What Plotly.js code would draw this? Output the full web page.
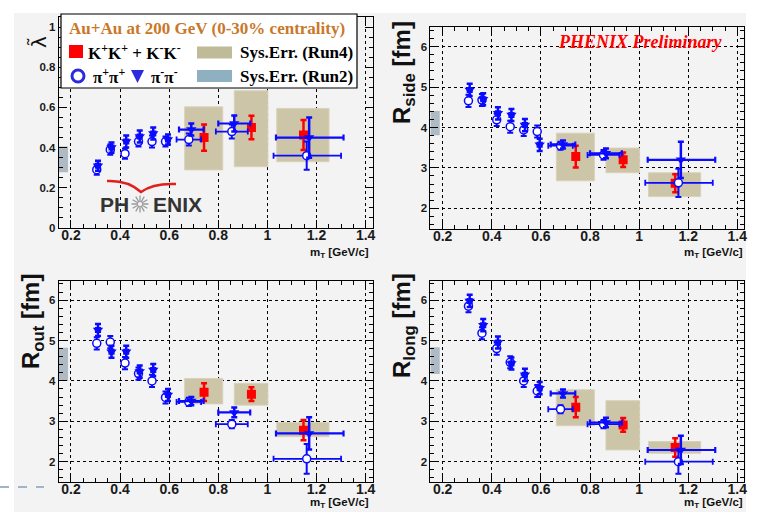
<!DOCTYPE html>
<html><head><meta charset="utf-8">
<script src="https://cdn.plot.ly/plotly-3.0.1.min.js"></script>
<style>html,body{margin:0;padding:0;background:#fff;}#chart{width:759px;height:512px;}</style>
</head><body><div id="chart"></div>
<script>
// ---------- DATA ----------
const mTpiPlus  = [0.305, 0.36, 0.42, 0.475, 0.53, 0.585, 0.68, 0.855, 1.16];
const mTpiMinus = [0.31, 0.365, 0.425, 0.48, 0.535, 0.595, 0.69, 0.865, 1.17];
const mTerrLow  = [0.008, 0.008, 0.008, 0.008, 0.008, 0.008, 0.05, 0.065, 0.135];
const mTerrHigh = [0.008, 0.008, 0.008, 0.008, 0.008, 0.008, 0.05, 0.065, 0.14];
const mTkaon    = [0.742, 0.935, 1.147];
const sysBinLow  = [0.663, 0.865, 1.038];
const sysBinHigh = [0.818, 1.002, 1.251];
const run2Bin    = [0.15, 0.188];

// lambda
const lambdaPiPlus     = [0.29, 0.39, 0.37, 0.43, 0.43, 0.43, 0.44, 0.48, 0.36];
const lambdaPiPlusErr  = [0.025, 0.025, 0.025, 0.025, 0.03, 0.025, 0.03, 0.035, 0.07];
const lambdaPiMinus    = [0.31, 0.40, 0.43, 0.455, 0.47, 0.44, 0.49, 0.52, 0.45];
const lambdaPiMinusErr = [0.025, 0.025, 0.03, 0.03, 0.03, 0.025, 0.03, 0.04, 0.10];
const lambdaKaon       = [0.45, 0.50, 0.463];
const lambdaKaonErr    = [0.065, 0.058, 0.075];
const lambdaSysLow     = [0.289, 0.305, 0.33];
const lambdaSysHigh    = [0.603, 0.683, 0.595];
const lambdaRun2       = [0.277, 0.405];

// R_side
const sidePiPlus     = [4.66, 4.68, 4.19, 4.02, 3.94, 3.90, 3.55, 3.32, 2.63];
const sidePiPlusErr  = [0.15, 0.15, 0.15, 0.15, 0.15, 0.15, 0.1, 0.12, 0.35];
const sidePiMinus    = [4.93, 4.70, 4.35, 4.31, 4.06, 3.57, 3.58, 3.36, 3.20];
const sidePiMinusErr = [0.15, 0.15, 0.15, 0.15, 0.15, 0.15, 0.1, 0.12, 0.45];
const sideKaon       = [3.28, 3.20, 2.62];
const sideKaonErr    = [0.27, 0.18, 0.22];
const sideSysLow     = [2.68, 2.88, 2.29];
const sideSysHigh    = [3.86, 3.49, 2.88];
const sideRun2       = [3.81, 4.41];

// R_out
const outPiPlus     = [4.93, 4.96, 4.44, 4.18, 4.00, 3.59, 3.48, 2.93, 2.07];
const outPiPlusErr  = [0.15, 0.15, 0.15, 0.15, 0.15, 0.15, 0.1, 0.1, 0.37];
const outPiMinus    = [5.26, 4.72, 4.72, 4.23, 4.27, 3.65, 3.50, 3.22, 2.70];
const outPiMinusErr = [0.15, 0.15, 0.15, 0.15, 0.15, 0.15, 0.1, 0.12, 0.40];
const outKaon       = [3.72, 3.67, 2.78];
const outKaonErr    = [0.22, 0.17, 0.25];
const outSysLow     = [3.43, 3.40, 2.62];
const outSysHigh    = [4.06, 3.94, 2.97];
const outRun2       = [4.00, 4.82];

// R_long
const longPiPlus     = [5.85, 5.18, 4.80, 4.46, 4.00, 3.75, 3.30, 2.93, 2.00];
const longPiPlusErr  = [0.15, 0.15, 0.15, 0.15, 0.15, 0.15, 0.1, 0.1, 0.30];
const longPiMinus    = [5.98, 5.38, 4.95, 4.43, 4.15, 3.82, 3.69, 2.97, 2.29];
const longPiMinusErr = [0.15, 0.15, 0.15, 0.15, 0.15, 0.15, 0.1, 0.12, 0.35];
const longKaon       = [3.35, 2.91, 2.35];
const longKaonErr    = [0.25, 0.17, 0.23];
const longSysLow     = [2.89, 2.29, 2.21];
const longSysHigh    = [3.78, 3.51, 2.50];
const longRun2       = [4.17, 4.83];

// ---------- STYLE / LAYOUT ----------
const W = 759, H = 512;
const px = v => v / W, py = v => 1 - v / H;
const BLUE = '#0a0aff', RED = '#ff0000', TAN = '#ccc5a8', TANLINE = '#d8d2bc', RUN2 = '#aebbc5';

const traces = [];
function panel(sfx, piP, piPErr, piM, piMErr, k, kErr, sysLo, sysHi, run2) {
  const xa = 'x' + sfx, ya = 'y' + sfx;
  traces.push({x:[run2Bin[0], run2Bin[1], run2Bin[1], run2Bin[0], run2Bin[0]],
    y:[run2[0], run2[0], run2[1], run2[1], run2[0]], xaxis:xa, yaxis:ya,
    mode:'lines', fill:'toself', fillcolor:RUN2, line:{width:0, color:RUN2}, hoverinfo:'skip'});
  for (let i = 0; i < sysLo.length; i++) {
    traces.push({x:[sysBinLow[i], sysBinHigh[i], sysBinHigh[i], sysBinLow[i], sysBinLow[i]],
      y:[sysLo[i], sysLo[i], sysHi[i], sysHi[i], sysLo[i]], xaxis:xa, yaxis:ya,
      mode:'lines', fill:'toself', fillcolor:TAN, line:{width:1, color:TANLINE}, hoverinfo:'skip'});
  }
  traces.push({x:mTkaon, y:k, xaxis:xa, yaxis:ya, mode:'markers',
    marker:{symbol:'square', size:9, color:RED},
    error_y:{type:'data', array:kErr, color:RED, thickness:2.5, width:3}});
  traces.push({x:mTpiPlus, y:piP, xaxis:xa, yaxis:ya, mode:'markers',
    marker:{symbol:'circle', size:8, color:'#ffffff', line:{color:BLUE, width:1.5}},
    error_x:{type:'data', symmetric:false, array:mTerrHigh, arrayminus:mTerrLow, color:BLUE, thickness:1.8, width:3},
    error_y:{type:'data', array:piPErr, color:BLUE, thickness:2, width:3}});
  traces.push({x:mTpiMinus, y:piM, xaxis:xa, yaxis:ya, mode:'markers',
    marker:{symbol:'triangle-down', size:9, color:BLUE},
    error_x:{type:'data', symmetric:false, array:mTerrHigh, arrayminus:mTerrLow, color:BLUE, thickness:2.2, width:3},
    error_y:{type:'data', array:piMErr, color:BLUE, thickness:2.5, width:3}});
}
panel('',  lambdaPiPlus, lambdaPiPlusErr, lambdaPiMinus, lambdaPiMinusErr, lambdaKaon, lambdaKaonErr, lambdaSysLow, lambdaSysHigh, lambdaRun2);
panel('2', sidePiPlus, sidePiPlusErr, sidePiMinus, sidePiMinusErr, sideKaon, sideKaonErr, sideSysLow, sideSysHigh, sideRun2);
panel('3', outPiPlus, outPiPlusErr, outPiMinus, outPiMinusErr, outKaon, outKaonErr, outSysLow, outSysHigh, outRun2);
panel('4', longPiPlus, longPiPlusErr, longPiMinus, longPiMinusErr, longKaon, longKaonErr, longSysLow, longSysHigh, longRun2);

const tickFontX = {family:'Liberation Sans, Arial, sans-serif', size:14, weight:'bold', color:'#1a1a1a'};
const tickFontY = {family:'Liberation Sans, Arial, sans-serif', size:11.5, weight:'bold', color:'#1a1a1a'};
function xAxis(dom, anchor) {
  return {domain:dom, anchor:anchor, range:[0.15, 1.428], tick0:0, dtick:0.2,
    showline:true, linecolor:'#000', linewidth:1, mirror:'allticks',
    ticks:'inside', ticklen:8, tickcolor:'#000', tickwidth:1, ticklabelstandoff:-6,
    minor:{ticks:'inside', ticklen:4, dtick:0.05, tick0:0, tickcolor:'#000', showgrid:false},
    showgrid:true, gridcolor:'#000', griddash:'dot', gridwidth:1, zeroline:false,
    tickfont:tickFontX, fixedrange:true};
}
function yAxis(dom, anchor, range, dtick, mdtick, grid) {
  return {domain:dom, anchor:anchor, range:range, tick0:0, dtick:dtick,
    showline:true, linecolor:'#000', linewidth:1, mirror:'allticks',
    ticks:'inside', ticklen:8, tickcolor:'#000', tickwidth:1,
    minor:{ticks:'inside', ticklen:4, dtick:mdtick, tick0:0, tickcolor:'#000', showgrid:false},
    showgrid:grid, gridcolor:'#000', griddash:'dot', gridwidth:1, zeroline:false,
    tickfont:tickFontY, fixedrange:true};
}
const LX = [px(58.7), px(372.5)], RX = [px(430.4), px(744.2)];

const shapes = [];
// slide background
shapes.push({type:'rect', xref:'paper', yref:'paper', x0:px(14), x1:px(746), y0:0, y1:py(13), fillcolor:'#f3f3f3', line:{width:0}, layer:'below'});
shapes.push({type:'line', xref:'paper', yref:'paper', x0:0, x1:px(44), y0:py(487), y1:py(487), line:{color:'#9fb3cc', width:2, dash:'dash'}, layer:'below'});
// legend box
shapes.push({type:'rect', xref:'paper', yref:'paper', x0:px(61), x1:px(357), y0:py(88), y1:py(14), fillcolor:'#ffffff', line:{color:'#000', width:1.2}, layer:'above'});
shapes.push({type:'rect', xref:'paper', yref:'paper', x0:px(69), x1:px(83), y0:py(58), y1:py(45), fillcolor:RED, line:{width:0}, layer:'above'});
shapes.push({type:'rect', xref:'paper', yref:'paper', x0:px(197), x1:px(232), y0:py(58.5), y1:py(46.5), fillcolor:'#bfba98', line:{width:0}, layer:'above'});
shapes.push({type:'rect', xref:'paper', yref:'paper', x0:px(197), x1:px(232), y0:py(82), y1:py(70), fillcolor:'#8fb0c0', line:{width:0}, layer:'above'});
shapes.push({type:'circle', xref:'paper', yref:'paper', x0:px(72), x1:px(84), y0:py(82), y1:py(70), fillcolor:'#ffffff', line:{color:'#2a2ae0', width:3}, layer:'above'});
shapes.push({type:'path', xref:'paper', yref:'paper',
  path:`M${px(131)},${py(70)} L${px(144)},${py(70)} L${px(137.5)},${py(83)} Z`, fillcolor:'#2a2ae0', line:{width:0}, layer:'above'});
// PHENIX logo swoosh and star
shapes.push({type:'path', xref:'paper', yref:'paper',
  path:`M${px(107)},${py(181)} Q${px(128)},${py(180)} ${px(141)},${py(192)} Q${px(153)},${py(183)} ${px(176)},${py(184)}`,
  line:{color:'#e0201c', width:2.5}, layer:'above'});
(function(){
  const cx = 140, cy = 204, r = 8.5; let p = '';
  for (let a = 0; a < 12; a++) {
    const t = a * Math.PI / 6;
    p += `M${px(cx + 2*Math.cos(t))},${py(cy + 2*Math.sin(t))} L${px(cx + r*Math.cos(t))},${py(cy + r*Math.sin(t))} `;
  }
  shapes.push({type:'path', xref:'paper', yref:'paper', path:p, line:{color:'#9a9a9a', width:1.3}, layer:'above'});
})();

const serif = 'Liberation Serif, Times New Roman, serif';
const sans = 'Liberation Sans, Arial, sans-serif';
function ann(x, y, text, font, extra) {
  return Object.assign({xref:'paper', yref:'paper', x:px(x), y:py(y), text:text, showarrow:false,
    xanchor:'center', yanchor:'middle', font:font}, extra || {});
}
const mtFont = {family:sans, size:11.5, weight:'bold', color:'#111'};
const annotations = [
  ann(207, 28, 'Au+Au at 200 GeV (0-30% centrality)', {family:serif, size:17, weight:'bold', color:'#c9782a'}),
  ann(86, 52, 'K<sup>+</sup>K<sup>+</sup> + K<sup>-</sup>K<sup>-</sup>', {family:serif, size:17, weight:'bold', color:'#000'}, {xanchor:'left'}),
  ann(238, 52, 'Sys.Err. (Run4)', {family:serif, size:17, weight:'bold', color:'#000'}, {xanchor:'left'}),
  ann(91, 76, 'π<sup>+</sup>π<sup>+</sup>', {family:serif, size:17, weight:'bold', color:'#000'}, {xanchor:'left'}),
  ann(149, 76, 'π<sup>-</sup>π<sup>-</sup>', {family:serif, size:17, weight:'bold', color:'#000'}, {xanchor:'left'}),
  ann(238, 76, 'Sys.Err. (Run2)', {family:serif, size:17, weight:'bold', color:'#000'}, {xanchor:'left'}),
  ann(640, 42, 'PHENIX Preliminary', {family:serif, size:18, weight:'bold', style:'italic', color:'#ff0000'}),
  ann(114, 204, 'PH', {family:sans, size:21, weight:'bold', color:'#333'}),
  ann(177, 204, 'ENIX', {family:sans, size:21, weight:'bold', color:'#333'}),
  ann(38, 42, 'λ\u0303', {family:'DejaVu Sans, sans-serif', size:20, color:'#111'}, {textangle:-90}),
  ann(403, 73, 'R<sub>side</sub> [fm]', {family:sans, size:24, weight:'bold', color:'#111'}, {textangle:-90}),
  ann(32, 322, 'R<sub>out</sub> [fm]', {family:sans, size:24, weight:'bold', color:'#111'}, {textangle:-90}),
  ann(403, 326, 'R<sub>long</sub> [fm]', {family:sans, size:24, weight:'bold', color:'#111'}, {textangle:-90}),
  ann(371, 253, 'm<sub>T</sub> [GeV/c]', mtFont, {xanchor:'right'}),
  ann(745, 253, 'm<sub>T</sub> [GeV/c]', mtFont, {xanchor:'right'}),
  ann(371, 511.5, 'm<sub>T</sub> [GeV/c]', mtFont, {xanchor:'right', yanchor:'bottom'}),
  ann(745, 511.5, 'm<sub>T</sub> [GeV/c]', mtFont, {xanchor:'right', yanchor:'bottom'})
];

const layout = {
  width:W, height:H, margin:{l:0, r:0, t:0, b:0},
  paper_bgcolor:'#ffffff', plot_bgcolor:'rgba(0,0,0,0)', showlegend:false,
  xaxis:  xAxis(LX, 'y'),
  yaxis:  yAxis([py(228), py(17)], 'x', [0, 1.05], 0.2, 0.05, false),
  // grid-only overlay for the lambda panel (grid at 0.2, 0.6, 1.0 as in the original)
  yaxis5: {domain:[py(228), py(17)], overlaying:'y', anchor:'x', range:[0, 1.05], tick0:0.2, dtick:0.4,
    showgrid:true, gridcolor:'#000', griddash:'dot', gridwidth:1, zeroline:false,
    showticklabels:false, ticks:'', showline:false, fixedrange:true},
  xaxis2: xAxis(RX, 'y2'),
  yaxis2: yAxis([py(229.3), py(26.5)], 'x2', [1.48, 6.5], 1, 0.2, true),
  xaxis3: xAxis(LX, 'y3'),
  yaxis3: yAxis([py(481.9), py(280.7)], 'x3', [1.5, 6.48], 1, 0.2, true),
  xaxis4: xAxis(RX, 'y4'),
  yaxis4: yAxis([py(481.9), py(280.7)], 'x4', [1.5, 6.48], 1, 0.2, true),
  shapes:shapes, annotations:annotations
};
Plotly.newPlot('chart', traces, layout, {staticPlot:true, displayModeBar:false});
</script></body></html>
